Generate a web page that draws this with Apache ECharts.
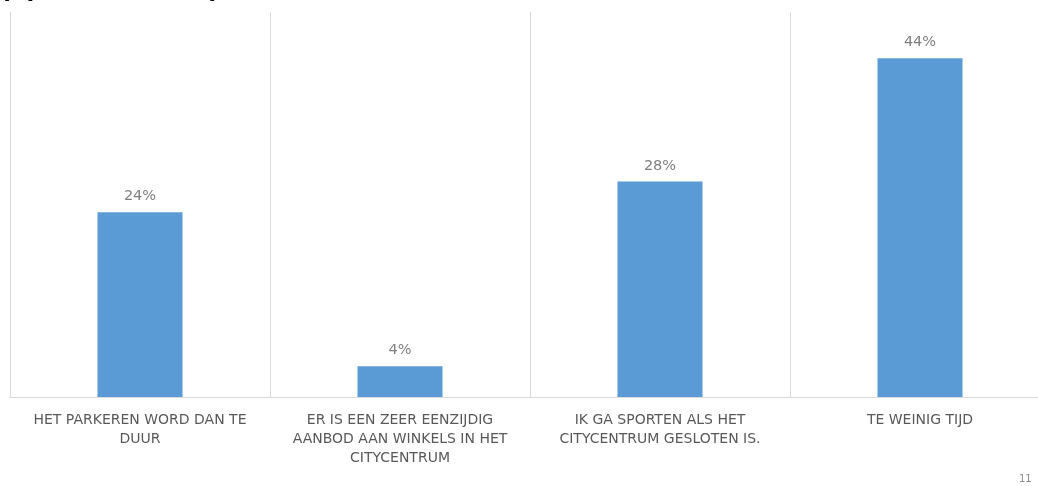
<!DOCTYPE html>
<html>
<head>
<meta charset="utf-8">
<script src="https://cdn.jsdelivr.net/npm/echarts@6/dist/echarts.min.js"></script>
<style>
html,body{margin:0;padding:0;background:#fff;}
#chart{width:1038px;height:486px;}
</style>
</head>
<body>
<div id="chart"></div>
<script>
const categories = [
  "HET PARKEREN WORD DAN TE\nDUUR",
  "ER IS EEN ZEER EENZIJDIG\nAANBOD AAN WINKELS IN HET\nCITYCENTRUM",
  "IK GA SPORTEN ALS HET\nCITYCENTRUM GESLOTEN IS.",
  "TE WEINIG TIJD"
];
const values = [24, 4, 28, 44];
const titleText = "(open antwoord)";
const pageNumber = "11";

const chart = echarts.init(document.getElementById('chart'));
chart.setOption({
  animation: false,
  backgroundColor: '#ffffff',
  grid: { left: 10, width: 1040, top: 12, height: 385, containLabel: false, outerBoundsMode: 'none' },
  graphic: [
    { type: 'text', left: 0, top: -26.5, style: { text: titleText, fontFamily: 'Liberation Sans, Arial', fontWeight: 'bold', fontSize: 28, fill: '#000' } },
    { type: 'text', left: 1019, top: 474, style: { text: pageNumber, fontFamily: 'DejaVu Sans', fontSize: 10, fill: '#8c8c8c' } }
  ],
  xAxis: {
    type: 'category',
    data: categories,
    axisLine: { show: true, lineStyle: { color: '#d9d9d9', width: 1 } },
    axisTick: { show: false },
    splitLine: { show: true, interval: 0, lineStyle: { color: '#d9d9d9', width: 1 } },
    axisLabel: {
      interval: 0,
      margin: 14,
      color: '#595959',
      fontFamily: 'DejaVu Sans',
      fontSize: 14,
      lineHeight: 19,
      align: 'center'
    }
  },
  yAxis: {
    type: 'value',
    min: 0,
    max: 50,
    show: false,
    splitLine: { show: false }
  },
  series: [{
    type: 'bar',
    data: values,
    barWidth: '32.7%',
    itemStyle: { color: '#5b9bd5' },
    label: {
      show: true,
      position: 'top',
      distance: 8,
      formatter: '{c}%',
      color: '#7f7f7f',
      fontFamily: 'DejaVu Sans',
      fontSize: 14.5
    }
  }]
});
</script>
</body>
</html>
